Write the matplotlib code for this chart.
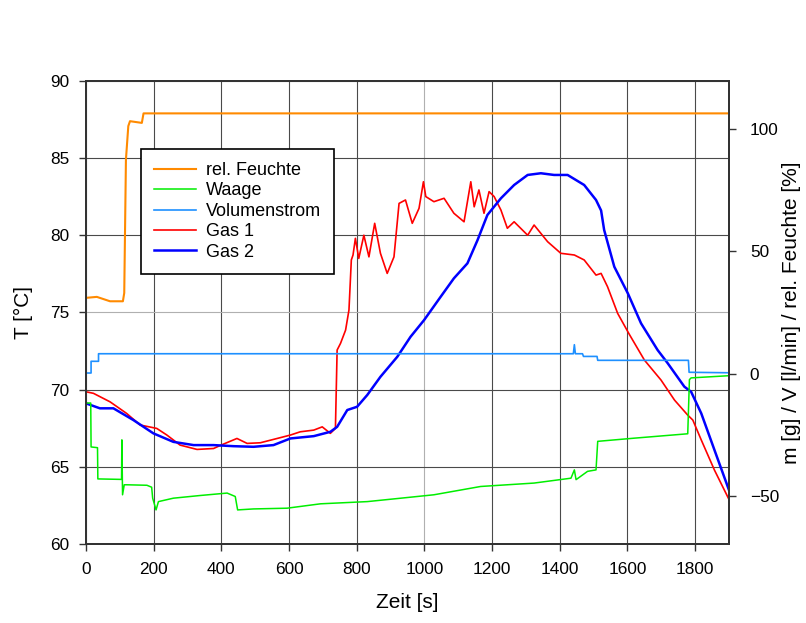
import numpy as np
import matplotlib.pyplot as plt

plt.rcParams['font.family'] = ['Liberation Sans', 'DejaVu Sans']

# Gas 1 (T, linke Achse)
t_gas1 = [0, 22, 71, 120, 160, 209, 239, 278, 328, 377, 397, 446, 476, 515, 565, 604,
          633, 673, 698, 722, 737, 742, 752, 767, 777, 784, 789, 796, 806, 821, 836,
          853, 870, 890, 910, 925, 944, 964, 984, 997, 1004, 1028, 1058, 1087, 1117,
          1137, 1147, 1161, 1176, 1191, 1206, 1226, 1245, 1265, 1305, 1324, 1364, 1403,
          1443, 1472, 1507, 1522, 1541, 1571, 1605, 1650, 1699, 1739, 1778, 1793, 1818,
          1857, 1900]
T_gas1 = [69.87, 69.77, 69.22, 68.47, 67.72, 67.5, 67.07, 66.42, 66.14, 66.2, 66.4,
          66.85, 66.53, 66.57, 66.85, 67.07, 67.28, 67.39, 67.6, 67.18, 67.5, 72.57,
          73.0, 73.86, 75.16, 78.4, 78.72, 79.8, 78.5, 80.0, 78.6, 80.77, 78.83, 77.53,
          78.6, 82.06, 82.28, 80.77, 81.74, 83.46, 82.5, 82.17, 82.39, 81.42, 80.87,
          83.46, 81.84, 82.93, 81.42, 82.82, 82.5, 81.63, 80.45, 80.87, 80.0, 80.66,
          79.58, 78.83, 78.72, 78.4, 77.42, 77.53, 76.67, 74.94, 73.6, 71.92, 70.63,
          69.33, 68.36, 68.04, 66.75, 64.8, 62.9]

# Gas 2 (T, linke Achse)
t_gas2 = [0, 41, 81, 140, 199, 258, 318, 377, 436, 495, 554, 604, 673, 722, 742, 772,
          801, 831, 870, 920, 959, 999, 1048, 1087, 1127, 1157, 1186, 1226, 1265, 1305,
          1344, 1383, 1423, 1472, 1507, 1522, 1531, 1561, 1601, 1640, 1689, 1719, 1768,
          1788, 1818, 1857, 1900]
T_gas2 = [69.12, 68.8, 68.8, 68.04, 67.18, 66.63, 66.42, 66.42, 66.35, 66.31, 66.42,
          66.85, 67.0, 67.28, 67.6, 68.69, 68.9, 69.66, 70.84, 72.14, 73.43, 74.51,
          76.02, 77.21, 78.18, 79.69, 81.31, 82.39, 83.25, 83.9, 84.01, 83.9, 83.9,
          83.25, 82.28, 81.6, 80.34, 77.96, 76.24, 74.3, 72.57, 71.71, 70.2, 69.87,
          68.47, 66.1, 63.5]

# rel. Feuchte (rechte Achse)
t_feuchte = [0, 32, 71, 109, 113, 118, 125, 130, 165, 170, 600, 1200, 1900]
v_feuchte = [31.0, 31.4, 29.6, 29.6, 33.0, 87.7, 101.4, 103.4, 102.7, 106.6, 106.6,
             106.6, 106.6]

# Waage (rechte Achse)
t_waage = [0, 14, 15, 34, 35, 105, 106, 108, 113, 120, 180, 194, 197, 207, 214, 258,
           337, 417, 441, 448, 495, 594, 693, 831, 930, 1028, 1166, 1324, 1433, 1443,
           1448, 1482, 1507, 1512, 1620, 1778, 1783, 1788, 1900]
v_waage = [-12.1, -12.1, -30.1, -30.4, -43.2, -43.4, -27.2, -49.7, -45.6, -45.6, -45.8,
           -46.6, -51.1, -55.9, -52.5, -51.1, -50.0, -49.0, -50.4, -55.9, -55.5, -55.2,
           -53.4, -52.5, -51.1, -49.7, -46.3, -44.9, -42.9, -39.5, -43.5, -40.1, -39.5,
           -27.8, -26.5, -24.7, -2.5, -1.8, -0.9]

# Volumenstrom (rechte Achse)
t_vol = [0, 15, 15, 37, 37, 1440, 1443, 1446, 1467, 1470, 1510, 1512, 1780, 1782, 1900]
v_vol = [0.2, 0.2, 5.0, 5.0, 8.1, 8.1, 11.8, 8.1, 8.1, 7.0, 7.0, 5.4, 5.4, 0.5, 0.3]

fig = plt.figure(figsize=(8.06, 6.23), dpi=100)
ax = fig.add_axes([0.1067, 0.1263, 0.7978, 0.7442])
ax2 = ax.twinx()

l1, = ax2.plot(t_feuchte, v_feuchte, color='#ff8a00', lw=1.5)
l2, = ax2.plot(t_waage, v_waage, color='#00ee00', lw=1.1)
l3, = ax2.plot(t_vol, v_vol, color='#1e90ff', lw=1.2)
l4, = ax.plot(t_gas1, T_gas1, color='#ff0000', lw=1.2)
l5, = ax.plot(t_gas2, T_gas2, color='#0000ff', lw=1.8)

ax.set_xlim(0, 1900)
ax.set_ylim(60, 90)
ax2.set_ylim(-70, 120)
ax.set_xticks(np.arange(0, 2000, 200))
ax.set_yticks(np.arange(60, 95, 5))
ax2.set_yticks([-50, 0, 50, 100])

ax.grid(True, color='#4a4a4a', lw=0.8)
ax.set_axisbelow(True)
# zwei Gitterlinien sind im Original heller
ax.get_xgridlines()[5].set_color('#b0b0b0')
ax.get_ygridlines()[3].set_color('#b0b0b0')

for a in (ax, ax2):
    for s in a.spines.values():
        s.set_color('#333333')
        s.set_linewidth(1.4)
ax.tick_params(direction='out', length=5, width=1, color='#333333', labelsize=12.4, pad=7)
ax.tick_params(axis='x', pad=8)
ax2.tick_params(direction='out', length=5, width=1, color='#333333', labelsize=12.4, pad=10)

ax.set_xlabel('Zeit [s]', fontsize=15, labelpad=11)
ax.set_ylabel('T [°C]', fontsize=15, labelpad=12)
ax2.set_ylabel('m [g] / V [l/min] / rel. Feuchte [%]', fontsize=15, labelpad=2)

leg = ax2.legend([l1, l2, l3, l4, l5],
                 ['rel. Feuchte', 'Waage', 'Volumenstrom', 'Gas 1', 'Gas 2'],
                 loc='upper left', bbox_to_anchor=(0.0855, 0.8527), borderaxespad=0,
                 fontsize=13, fancybox=False, edgecolor='black', framealpha=1,
                 handlelength=2.3, handletextpad=0.6, labelspacing=0.19, borderpad=0.72)
leg.get_frame().set_linewidth(1.2)

fig.savefig('out.png', dpi=100)
